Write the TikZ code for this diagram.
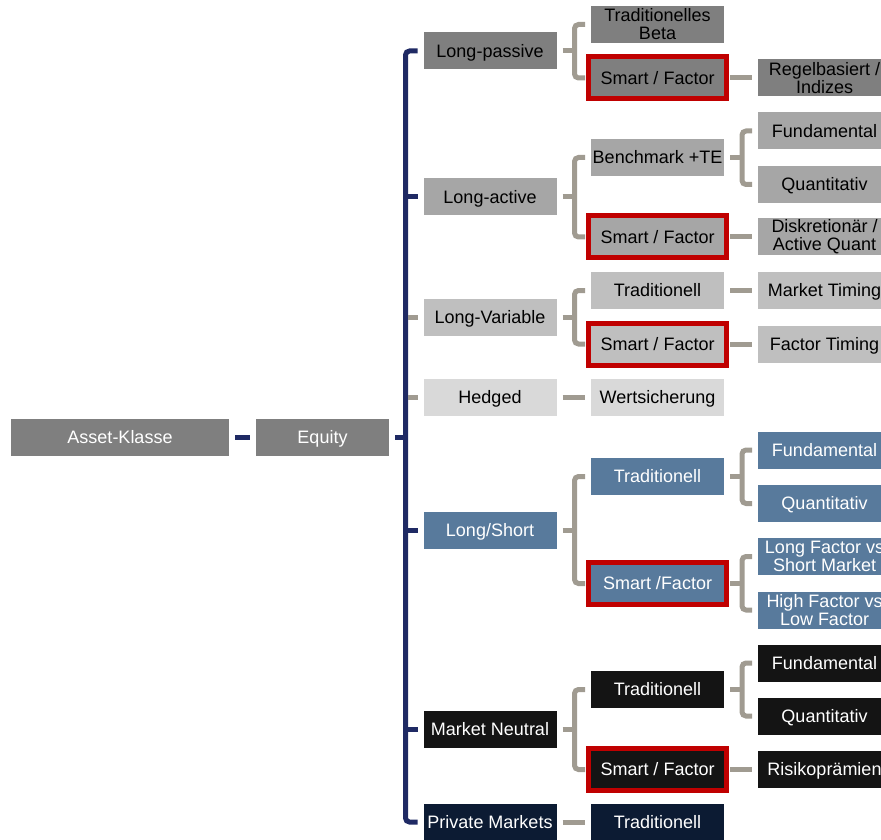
\documentclass[tikz,border=0pt]{standalone}
\usepackage{fontspec}
\setmainfont{Liberation Sans}

\definecolor{spinenavy}{HTML}{1F2A64}
\definecolor{linkgray}{HTML}{A09B91}
\definecolor{framered}{HTML}{C00000}
\definecolor{greyA}{HTML}{7F7F7F}
\definecolor{greyB}{HTML}{A6A6A6}
\definecolor{greyC}{HTML}{BFBFBF}
\definecolor{greyD}{HTML}{D9D9D9}
\definecolor{steelblue}{HTML}{587A9C}
\definecolor{nearblack}{HTML}{141414}
\definecolor{deepnavy}{HTML}{0C1B33}

\tikzset{
  box/.style={minimum width=66.5pt, minimum height=18.5pt, inner sep=0pt,
    outer sep=0pt, align=center, font=\fontsize{9}{9}\selectfont,
    text height=6.7pt, text depth=0.3pt},
  twoline/.style={text height={}, text depth={}},
  smart/.style={draw=framered, line width=2.5pt, minimum width=69pt,
    minimum height=21pt, outer sep=-1.25pt},
  grpA/.style={box, fill=greyA, text=black},
  grpB/.style={box, fill=greyB, text=black},
  grpC/.style={box, fill=greyC, text=black},
  grpD/.style={box, fill=greyD, text=black},
  grpLS/.style={box, fill=steelblue, text=white},
  grpMN/.style={box, fill=nearblack, text=white},
  grpPM/.style={box, fill=deepnavy, text=white},
  spine/.style={draw=spinenavy, line width=2.5pt, rounded corners=2pt},
  link/.style={draw=linkgray, line width=2.5pt, rounded corners=2pt}
}

\begin{document}
\begin{tikzpicture}[x=0.5pt, y=-0.5pt]
\useasboundingbox (0,0) rectangle (881,839);
\clip (0,0) rectangle (881,839);

% Root
\node[grpA, text=white, minimum width=109pt] (ak) at (120,437) {Asset-Klasse};
\node[grpA, text=white] (eq) at (322.5,437) {Equity};
\draw[spine] ([xshift=3pt]ak.east) -- ([xshift=-3pt]eq.west);

% First level
\node[grpA] (lp) at (490,51) {Long-passive};
\node[grpB] (la) at (490,197) {Long-active};
\node[grpC] (lv) at (490,317) {Long-Variable};
\node[grpD] (hd) at (490,397) {Hedged};
\node[grpLS] (ls) at (490,530) {Long/Short};
\node[grpMN] (mn) at (490,729) {Market Neutral};
\node[grpPM] (pm) at (490,822) {Private Markets};

\coordinate (bus) at ([xshift=-9pt]lp.west);
\draw[spine] ([xshift=3pt]eq.east) -- (eq.east -| bus);
\draw[spine] ([xshift=-3pt]lp.west) -- (bus) |- ([xshift=-3pt]pm.west);
\draw[spine] ([xshift=-3pt]la.west) -- ([xshift=-9pt]la.west);
\draw[link, rounded corners=0pt] ([xshift=-3pt]lv.west) -- ([xshift=-8pt]lv.west);
\draw[link, rounded corners=0pt] ([xshift=-3pt]hd.west) -- ([xshift=-8pt]hd.west);
\draw[spine] ([xshift=-3pt]ls.west) -- ([xshift=-9pt]ls.west);
\draw[spine] ([xshift=-3pt]mn.west) -- ([xshift=-9pt]mn.west);

% Long-passive
\node[grpA, twoline] (tb) at (657.5,24.5) {Traditionelles\\Beta};
\node[grpA, smart] (sf1) at (657.5,78) {Smart / Factor};
\node[grpA, twoline] (rb) at (824.5,78) {Regelbasiert /\\Indizes};
\coordinate (lpbar) at ([xshift=9pt]lp.east);
\draw[link] ([xshift=3pt]lp.east) -- (lpbar);
\draw[link] ([xshift=-3pt]tb.west) -| (lpbar) |- ([xshift=-3pt]sf1.west);
\draw[link] ([xshift=3pt]sf1.east) -- ([xshift=-3pt]rb.west);

% Long-active
\node[grpB] (bm) at (657.5,157.5) {Benchmark +TE};
\node[grpB, smart] (sf2) at (657.5,237) {Smart / Factor};
\node[grpB] (fa) at (824.5,131) {Fundamental};
\node[grpB] (qa) at (824.5,184.5) {Quantitativ};
\node[grpB, twoline] (dq) at (824.5,237) {Diskretionär /\\Active Quant};
\coordinate (labar) at ([xshift=9pt]la.east);
\draw[link] ([xshift=3pt]la.east) -- (labar);
\draw[link] ([xshift=-3pt]bm.west) -| (labar) |- ([xshift=-3pt]sf2.west);
\coordinate (bmbar) at ([xshift=9pt]bm.east);
\draw[link] ([xshift=3pt]bm.east) -- (bmbar);
\draw[link] ([xshift=-3pt]fa.west) -| (bmbar) |- ([xshift=-3pt]qa.west);
\draw[link] ([xshift=3pt]sf2.east) -- ([xshift=-3pt]dq.west);

% Long-Variable
\node[grpC] (tv) at (657.5,290.5) {Traditionell};
\node[grpC, smart] (sf3) at (657.5,344) {Smart / Factor};
\node[grpC] (mt) at (824.5,290.5) {Market Timing};
\node[grpC] (ft) at (824.5,344) {Factor Timing};
\coordinate (lvbar) at ([xshift=9pt]lv.east);
\draw[link] ([xshift=3pt]lv.east) -- (lvbar);
\draw[link] ([xshift=-3pt]tv.west) -| (lvbar) |- ([xshift=-3pt]sf3.west);
\draw[link] ([xshift=3pt]tv.east) -- ([xshift=-3pt]mt.west);
\draw[link] ([xshift=3pt]sf3.east) -- ([xshift=-3pt]ft.west);

% Hedged
\node[grpD] (ws) at (657.5,397) {Wertsicherung};
\draw[link] ([xshift=3pt]hd.east) -- ([xshift=-3pt]ws.west);

% Long/Short
\node[grpLS] (tl) at (657.5,476.5) {Traditionell};
\node[grpLS, smart] (sf4) at (657.5,583.5) {Smart /Factor};
\node[grpLS] (fl) at (824.5,450) {Fundamental};
\node[grpLS] (ql) at (824.5,503.5) {Quantitativ};
\node[grpLS, twoline] (lf) at (824.5,556.5) {Long Factor vs\\Short Market};
\node[grpLS, twoline] (hf) at (824.5,610) {High Factor vs\\Low Factor};
\coordinate (lsbar) at ([xshift=9pt]ls.east);
\draw[link] ([xshift=3pt]ls.east) -- (lsbar);
\draw[link] ([xshift=-3pt]tl.west) -| (lsbar) |- ([xshift=-3pt]sf4.west);
\coordinate (tlbar) at ([xshift=9pt]tl.east);
\draw[link] ([xshift=3pt]tl.east) -- (tlbar);
\draw[link] ([xshift=-3pt]fl.west) -| (tlbar) |- ([xshift=-3pt]ql.west);
\coordinate (sfbar) at ([xshift=9pt]sf4.east);
\draw[link] ([xshift=3pt]sf4.east) -- (sfbar);
\draw[link] ([xshift=-3pt]lf.west) -| (sfbar) |- ([xshift=-3pt]hf.west);

% Market Neutral
\node[grpMN] (tm) at (657.5,689.5) {Traditionell};
\node[grpMN, smart] (sf5) at (657.5,769.5) {Smart / Factor};
\node[grpMN] (fm) at (824.5,663) {Fundamental};
\node[grpMN] (qm) at (824.5,716) {Quantitativ};
\node[grpMN] (rp) at (824.5,769.5) {Risikoprämien};
\coordinate (mnbar) at ([xshift=9pt]mn.east);
\draw[link] ([xshift=3pt]mn.east) -- (mnbar);
\draw[link] ([xshift=-3pt]tm.west) -| (mnbar) |- ([xshift=-3pt]sf5.west);
\coordinate (tmbar) at ([xshift=9pt]tm.east);
\draw[link] ([xshift=3pt]tm.east) -- (tmbar);
\draw[link] ([xshift=-3pt]fm.west) -| (tmbar) |- ([xshift=-3pt]qm.west);
\draw[link] ([xshift=3pt]sf5.east) -- ([xshift=-3pt]rp.west);

% Private Markets
\node[grpPM] (tp) at (657.5,822) {Traditionell};
\draw[link] ([xshift=3pt]pm.east) -- ([xshift=-3pt]tp.west);
\end{tikzpicture}
\end{document}
